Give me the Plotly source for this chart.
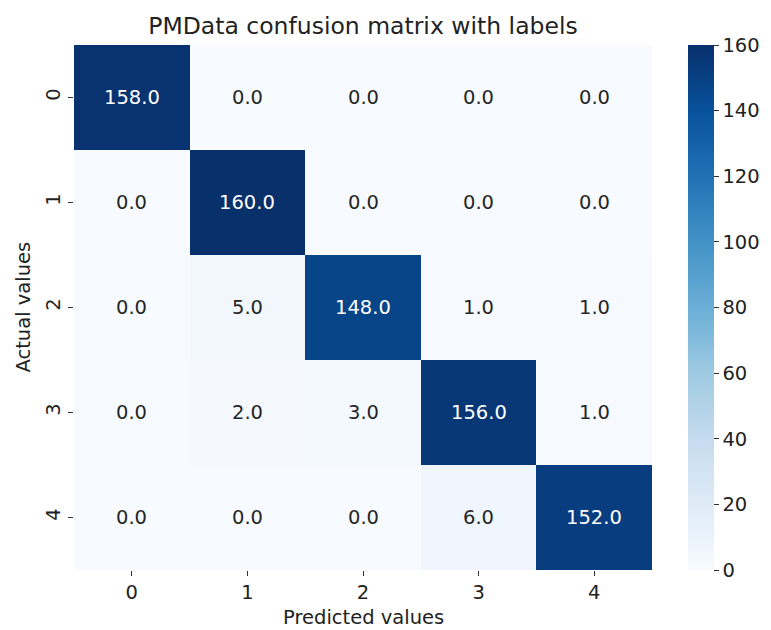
import plotly.graph_objects as go

labels = ["0", "1", "2", "3", "4"]
matrix = [
    [158, 0, 0, 0, 0],
    [0, 160, 0, 0, 0],
    [0, 5, 148, 1, 1],
    [0, 2, 3, 156, 1],
    [0, 0, 0, 6, 152],
]
cbar_ticks = [0, 20, 40, 60, 80, 100, 120, 140, 160]

blues = [
    [0.0, "#f7fbff"], [0.125, "#deebf7"], [0.25, "#c6dbef"], [0.375, "#9ecae1"],
    [0.5, "#6baed6"], [0.625, "#4292c6"], [0.75, "#2171b5"], [0.875, "#08519c"],
    [1.0, "#08306b"],
]

FONT = "DejaVu Sans"
FS = 19.5
zmin, zmax = 0, 160
# page body has an 8px margin, so the figure is drawn at (8, 8)
W, H = 763, 622
L, R, T, B = 66, 119, 37, 60
pw, ph = W - L - R, H - T - B

fig = go.Figure(go.Heatmap(
    z=matrix, x=labels, y=labels,
    colorscale=blues, zmin=zmin, zmax=zmax,
    colorbar=dict(
        x=(680 - L) / pw, xanchor="left", xpad=0, ypad=0,
        y=0.5, yanchor="middle", len=1.0, lenmode="fraction",
        thickness=26, outlinewidth=0, tickvals=cbar_ticks, ticks="outside",
        ticklen=5, tickwidth=1.3, tickcolor="#333",
        tickfont=dict(family=FONT, size=FS, color="#222"),
    ),
    hoverinfo="skip",
))

annotations = []
for i, row in enumerate(matrix):
    for j, v in enumerate(row):
        col = "white" if v > (zmin + zmax) / 2 else "#262626"
        annotations.append(dict(
            x=labels[j], y=labels[i], text=f"{v:.1f}", showarrow=False,
            font=dict(family=FONT, size=FS, color=col),
        ))

annotations.append(dict(
    text="Predicted values", xref="paper", yref="paper", x=0.5, y=0,
    yshift=-47, xanchor="center", yanchor="middle", showarrow=False,
    font=dict(family=FONT, size=FS, color="#222"),
))
annotations.append(dict(
    text="Actual values", xref="paper", yref="paper", x=0, y=0.5,
    xshift=-51, xanchor="center", yanchor="middle", textangle=-90, showarrow=False,
    font=dict(family=FONT, size=FS, color="#222"),
))

fig.update_layout(
    width=W, height=H,
    margin=dict(l=L, r=R, t=T, b=B, autoexpand=False),
    paper_bgcolor="white", plot_bgcolor="white",
    title=dict(text="PMData confusion matrix with labels", x=0.5, xref="paper",
               xanchor="center", y=1 - 18 / H, yref="container", yanchor="middle",
               automargin=False,
               font=dict(family=FONT, size=23.5, color="#222")),
    annotations=annotations,
    xaxis=dict(
        type="category", ticks="outside", ticklen=5, tickwidth=1.3, tickcolor="#333",
        tickfont=dict(family=FONT, size=FS, color="#222"), automargin=False,
        showgrid=False, zeroline=False, showline=False,
    ),
    yaxis=dict(
        type="category", autorange="reversed", ticks="outside", ticklen=5, tickwidth=1.3,
        tickcolor="#333", tickangle=-90, automargin=False,
        tickfont=dict(family=FONT, size=FS, color="#222"),
        showgrid=False, zeroline=False, showline=False,
    ),
)

fig.write_html("out.html")
